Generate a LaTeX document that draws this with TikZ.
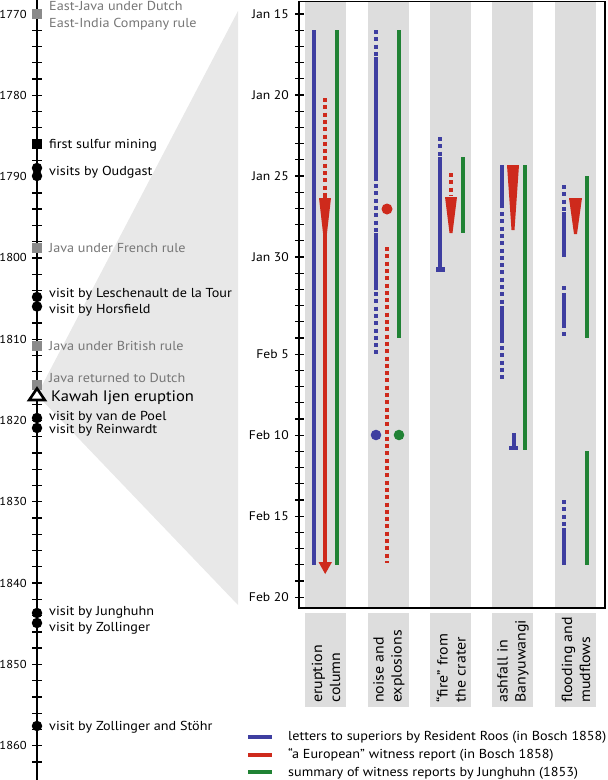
\documentclass[tikz,border=0pt]{standalone}
\usepackage{fontspec}
\setmainfont{PT Sans}[FakeStretch=1.09]
\definecolor{cblue}{RGB}{62,62,160}
\definecolor{cred}{RGB}{206,42,28}
\definecolor{cgreen}{RGB}{32,130,52}
\definecolor{stripe}{RGB}{221,221,221}
\definecolor{wedgegray}{RGB}{232,232,232}
\definecolor{evgray}{RGB}{138,138,138}
\definecolor{txgray}{RGB}{118,118,118}
\begin{document}
\begin{tikzpicture}[x=1pt,y=-1pt,
  solid4/.style={line width=4pt},
  dot4/.style={line width=4pt, dash pattern=on 4pt off 3.3pt},
  evlbl/.style={font=\fontsize{13}{15}\selectfont, anchor=base west, inner sep=0},
  glbl/.style={evlbl, text=txgray},
  yearlbl/.style={font=\fontsize{11.5}{13}\selectfont, anchor=east, inner sep=0},
  datelbl/.style={font=\fontsize{12.5}{14}\selectfont, anchor=east, inner sep=0},
  sqmark/.style={rectangle, minimum size=10pt, inner sep=0},
  dotmark/.style={circle, fill=black, minimum size=10.5pt, inner sep=0},
  collbl/.style={rotate=90, anchor=west, align=left, inner sep=0, font=\fontsize{14.6}{18}\selectfont},
  leglbl/.style={font=\fontsize{13}{15}\selectfont, anchor=base west, inner sep=0},
  tick/.style={line width=1.3pt}
]
\useasboundingbox (0,0) rectangle (608,780);

% grey zoom wedge
\fill[wedgegray] (238,11) -- (37,395) -- (238,605) -- cycle;

% left timeline
\draw[line width=2pt] (37,0) -- (37,780);
\foreach \k in {0,...,46} {
  \draw[tick] (32,{14+2*\k*8.13}) -- (42,{14+2*\k*8.13});
}
\foreach \yr in {1770,1780,...,1860} {
  \node[yearlbl] (y\yr) at (27,{14+(\yr-1770)*8.13}) {\yr};
}

% events
\node[sqmark, fill=evgray] (e1770) at (37,14) {};
\node[glbl] (t1770a) at (49,10) {East-Java under Dutch};
\node[glbl] (t1770b) at (49,27.3) {East-India Company rule};
\node[sqmark, fill=black] (e1786) at (37,144) {};
\node[evlbl] (t1786) at (49,148.3) {first sulfur mining};
\node[dotmark] (e1789) at (37,168) {};
\node[dotmark] (e1790) at (37,176) {};
\node[evlbl] (t1790) at (49,175.7) {visits by Oudgast};
\node[sqmark, fill=evgray] (e1799) at (37,248) {};
\node[glbl] (t1799) at (49,252.7) {Java under French rule};
\node[dotmark] (e1805) at (37,297) {};
\node[dotmark] (e1806) at (37,306.5) {};
\node[evlbl] (t1805) at (49,297.7) {visit by Leschenault de la Tour};
\node[evlbl] (t1806) at (49,313.3) {visit by Horsfield};
\node[sqmark, fill=evgray] (e1811) at (37,346) {};
\node[glbl] (t1811) at (49,350.7) {Java under British rule};
\node[sqmark, fill=evgray] (e1816) at (37,385) {};
\node[glbl] (t1816) at (49,382.7) {Java returned to Dutch};
\draw[line width=2.6pt, fill=white, line join=miter] (37,388.5) -- (44.8,400) -- (29.2,400) -- cycle;
\node[evlbl, font=\fontsize{15.2}{18}\selectfont] (t1817) at (51,401.7) {Kawah Ijen eruption};
\node[dotmark] (e1819) at (37,418) {};
\node[dotmark] (e1821) at (37,428) {};
\node[evlbl] (t1819) at (49,420) {visit by van de Poel};
\node[evlbl] (t1821) at (49,433.4) {visit by Reinwardt};
\node[dotmark] (e1844) at (37,613) {};
\node[dotmark] (e1845) at (37,623) {};
\node[evlbl] (t1844) at (49,615.7) {visit by Junghuhn};
\node[evlbl] (t1845) at (49,631) {visit by Zollinger};
\node[dotmark] (e1858) at (37,726) {};
\node[evlbl] (t1858) at (49,730) {visit by Zollinger and Stöhr};

% right chart stripes
\foreach \xa in {305,368,430,492,555} {
  \fill[stripe] (\xa,1.5) rectangle (\xa+41,608);
  \fill[stripe] (\xa,613) rectangle (\xa+41,707);
}
\draw[line width=1.6pt] (299,1.5) rectangle (605,608);
\foreach \d in {0,...,36} {
  \draw[tick] (295,{14+16.2*\d}) -- (304,{14+16.2*\d});
}
\node[datelbl] (d0) at (289,14) {Jan 15};
\node[datelbl] (d5) at (289,95) {Jan 20};
\node[datelbl] (d10) at (289,176) {Jan 25};
\node[datelbl] (d15) at (289,257) {Jan 30};
\node[datelbl] (d21) at (289,354.2) {Feb 5};
\node[datelbl] (d26) at (289,435.2) {Feb 10};
\node[datelbl] (d31) at (289,516.2) {Feb 15};
\node[datelbl] (d36) at (289,597.2) {Feb 20};

% column 1: eruption column
\draw[solid4, cblue] (314,30) -- (314,565);
\draw[solid4, cgreen] (337,30) -- (337,565);
\draw[dot4, cred] (325,98) -- (325,194);
\draw[solid4, cred] (325,194) -- (325,563);
\fill[cred] (319,198) -- (331,198) -- (327,233) -- (323,233) -- cycle;
\fill[cred] (318.5,562) -- (332,562) -- (325.2,574) -- cycle;

% column 2: noise and explosions
\draw[dot4, cblue] (376,30) -- (376,57);
\draw[solid4, cblue] (376,57) -- (376,181);
\draw[dot4, cblue] (376,184) -- (376,233);
\draw[solid4, cblue] (376,233) -- (376,290);
\draw[dot4, cblue] (376,292) -- (376,356);
\fill[cred] (387,209) circle (5.5);
\draw[dot4, cred] (387,247) -- (387,563);
\draw[solid4, cgreen] (399,30) -- (399,338);
\fill[cblue] (376,435) circle (5.3);
\fill[cgreen] (399,435) circle (5.3);

% column 3: fire from the crater
\draw[dot4, cblue] (440,137) -- (440,157);
\draw[solid4, cblue] (440,157) -- (440,269);
\fill[cblue] (435.5,267) rectangle (444.5,271.5);
\draw[dot4, cred] (451,173) -- (451,196);
\fill[cred] (445,197) -- (457,197) -- (452.5,233) -- (449.5,233) -- cycle;
\draw[solid4, cgreen] (463,157) -- (463,233);

% column 4: ashfall
\draw[solid4, cblue] (502,165) -- (502,208);
\draw[dot4, cblue] (502,212) -- (502,304);
\draw[solid4, cblue] (502,306) -- (502,343);
\draw[dot4, cblue] (502,346) -- (502,381);
\fill[cred] (507,165) -- (519,165) -- (514.5,230) -- (511.5,230) -- cycle;
\draw[solid4, cgreen] (525,165) -- (525,450);
\draw[solid4, cblue] (513.5,433) -- (513.5,449);
\fill[cblue] (509,446) rectangle (518,450);

% column 5: flooding and mudflows
\draw[dot4, cblue] (564,185) -- (564,211);
\draw[solid4, cblue] (564,212) -- (564,257);
\draw[solid4, cblue] (564,286) -- (564,290);
\draw[solid4, cblue] (564,293) -- (564,328);
\draw[solid4, cblue] (564,332) -- (564,336);
\draw[dot4, cblue] (564,500) -- (564,527);
\draw[solid4, cblue] (564,528) -- (564,565);
\fill[cred] (569,198) -- (582,198) -- (577,234) -- (574,234) -- cycle;
\draw[solid4, cgreen] (587,176) -- (587,338);
\draw[solid4, cgreen] (587,451) -- (587,565);

% column labels
\node[collbl] (c1) at (326,703) {eruption\\column};
\node[collbl] (c2) at (389,703) {noise and\\explosions};
\node[collbl] (c3) at (451,703) {“fire” from\\the crater};
\node[collbl] (c4) at (513,703) {ashfall in\\Banyuwangi};
\node[collbl] (c5) at (576,703) {flooding and\\mudflows};

% legend
\draw[solid4, cblue] (248,737) -- (272,737);
\draw[solid4, cred] (248,754.5) -- (272,754.5);
\draw[solid4, cgreen] (248,772) -- (272,772);
\node[leglbl] (l1) at (288,740.5) {letters to superiors by Resident Roos (in Bosch 1858)};
\node[leglbl] (l2) at (288,758) {“a European” witness report (in Bosch 1858)};
\node[leglbl] (l3) at (288,776) {summary of witness reports by Junghuhn (1853)};
\end{tikzpicture}
\end{document}
